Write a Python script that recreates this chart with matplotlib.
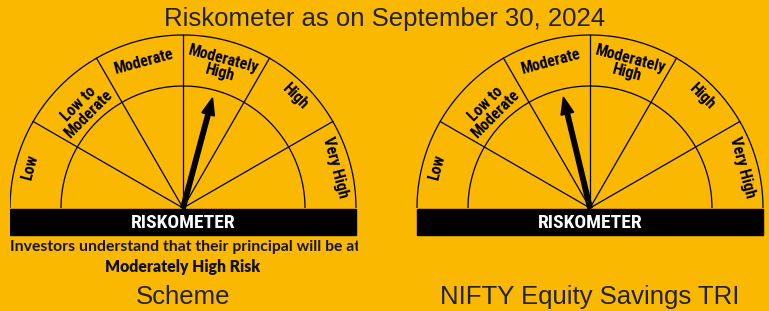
import numpy as np
import matplotlib
matplotlib.use("Agg")
import matplotlib.pyplot as plt
from matplotlib import font_manager
from matplotlib.patches import FancyArrow, Rectangle

# ---------------- data ----------------
title = "Riskometer as on September 30, 2024"
risk_levels = ["Low", "Low to\nModerate", "Moderate", "Moderately\nHigh", "High", "Very High"]
panel_names = ["Scheme", "NIFTY Equity Savings TRI"]
needle_levels = [3.5, 2.55]          # position on 0..6 scale (segment index + fraction)
investor_note = "Investors understand that their principal will be at"
scheme_risk = "Moderately High Risk"

# ---------------- fonts ----------------
available = {f.name for f in font_manager.fontManager.ttflist}
NARROW = next((f for f in ["Roboto Condensed", "Liberation Sans Narrow", "DejaVu Sans Condensed",
                           "Open Sans Condensed", "Noto Sans Condensed"] if f in available), None)
if NARROW is None:
    NARROW = "Roboto"
    narrow_kw = dict(stretch="condensed")
else:
    narrow_kw = {}

# ---------------- style ----------------
BG = "#FBB800"
W, H = 769, 311
fig = plt.figure(figsize=(W / 100, H / 100), dpi=100)
fig.patch.set_facecolor(BG)

ax = fig.add_axes([0, 0, 1, 1])
ax.set_xlim(0, W)
ax.set_ylim(H, 0)
ax.axis("off")

# left gauge is clipped to its own panel
axL = fig.add_axes([10 / W, 0, 348 / W, 1])
axL.set_xlim(10, 358)
axL.set_ylim(H, 0)
axL.axis("off")
axL.patch.set_alpha(0)

R_OUT, R_IN = 173, 122
CY = 208
label_r = [158, 140, 151, 147, 158, 158]
label_font = dict(family=NARROW, weight="bold", fontsize=11.5, **narrow_kw)

n = len(risk_levels)
seg = 180.0 / n


def draw_gauge(a, cx, level):
    t = np.linspace(0, np.pi, 300)
    for r in (R_OUT, R_IN):
        a.plot(cx + r * np.cos(t), CY - r * np.sin(t), color="black", lw=0.9, solid_capstyle="butt")
    for i in range(1, n):
        ang = np.radians(180 - i * seg)
        a.plot([cx, cx + R_OUT * np.cos(ang)], [CY, CY - R_OUT * np.sin(ang)], color="black", lw=0.9)
    for i, lab in enumerate(risk_levels):
        angd = 180 - (i + 0.5) * seg
        ang = np.radians(angd)
        r = label_r[i]
        a.text(cx + r * np.cos(ang), CY - r * np.sin(ang), lab, rotation=angd - 90,
               ha="center", va="center", ma="center", rotation_mode="anchor",
               linespacing=0.88, clip_on=True, **label_font)
    # bar
    a.add_patch(Rectangle((cx - R_OUT, CY + 1), 2 * R_OUT, 26, color="black", clip_on=True))
    a.text(cx, CY + 14.5, "RISKOMETER", color="white", ha="center", va="center",
           family=NARROW, weight="bold", fontsize=14, clip_on=True, **narrow_kw)
    # needle
    angn = np.radians(180 - level * seg)
    L = 114
    a.add_patch(FancyArrow(cx, CY, L * np.cos(angn), -L * np.sin(angn), width=4.5,
                           head_width=13, head_length=17, length_includes_head=True,
                           color="black", clip_on=True))


centers = [183, 590]
draw_gauge(axL, centers[0], needle_levels[0])
draw_gauge(ax, centers[1], needle_levels[1])

axL.text(centers[0] + 2, 247, investor_note, ha="center", va="center", family="Lato",
         weight="bold", fontsize=11.3, color="#151515", clip_on=True)
ax.text(centers[0], 267, scheme_risk, ha="center", va="center", family="Lato",
        weight="heavy", fontsize=11.3, color="#111111")

ax.text(W / 2, 19, title, ha="center", va="center", family="Liberation Sans", fontsize=18.5,
        color="#222222")
for cx, name in zip(centers, panel_names):
    ax.text(cx, 297, name, ha="center", va="center", family="Liberation Sans", fontsize=18.5,
            color="#222222")

fig.savefig("out.png", dpi=100, facecolor=BG)
